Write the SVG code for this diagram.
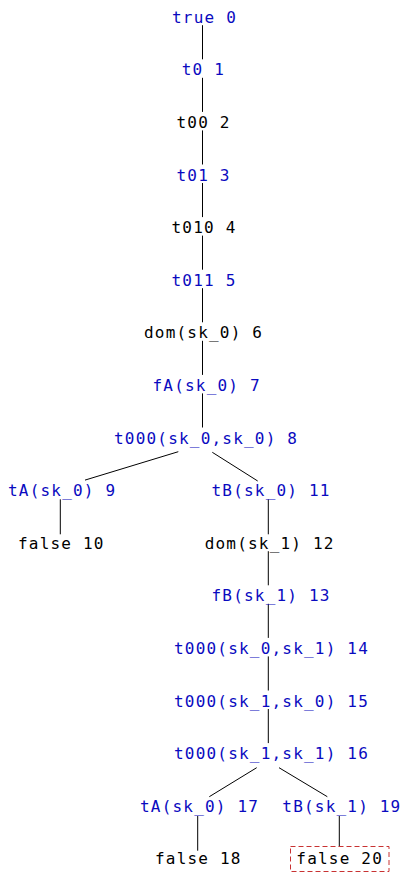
<svg xmlns="http://www.w3.org/2000/svg" width="412" height="892" viewBox="0 0 412 892">
<style>
text{font-family:"DejaVu Sans Mono","Liberation Mono",monospace;font-size:16px;letter-spacing:1.2px}
.b{fill:#0a0ac0}
.k{fill:#000}
#edges line{stroke:#000;stroke-width:1}
.hl{fill:none;stroke:#c83232;stroke-width:1;stroke-dasharray:5,3}
</style>
<rect width="412" height="892" fill="#fff"/>
<g id="edges">
<line x1="202.5" y1="25.2" x2="202.5" y2="59.3"/>
<line x1="202.5" y1="77.8" x2="202.5" y2="111.9"/>
<line x1="202.5" y1="130.4" x2="202.5" y2="164.5"/>
<line x1="202.5" y1="183" x2="202.5" y2="217.1"/>
<line x1="202.5" y1="235.6" x2="202.5" y2="269.7"/>
<line x1="202.5" y1="288.2" x2="202.5" y2="322.3"/>
<line x1="202.5" y1="340.8" x2="202.5" y2="374.9"/>
<line x1="202.5" y1="393.4" x2="202.5" y2="427.5"/>
<line x1="178.3" y1="451.7" x2="85" y2="480.1"/>
<line x1="212.3" y1="452.3" x2="257.7" y2="481"/>
<line x1="60.3" y1="499.3" x2="60.3" y2="534.3"/>
<line x1="268.3" y1="499.3" x2="268.3" y2="534.3"/>
<line x1="268.3" y1="551.2" x2="268.3" y2="585.3"/>
<line x1="268.3" y1="603.8" x2="268.3" y2="637.9"/>
<line x1="268.3" y1="656.4" x2="268.3" y2="690.5"/>
<line x1="268.3" y1="709" x2="268.3" y2="743.1"/>
<line x1="256.7" y1="767.7" x2="209.3" y2="796.7"/>
<line x1="279" y1="767.7" x2="327.3" y2="796.7"/>
<line x1="197.7" y1="816" x2="197.7" y2="850.7"/>
<line x1="339.3" y1="816" x2="339.3" y2="846.5"/>
</g>
<g id="n0"><text class="b" x="172" y="22.7">true 0</text></g>
<g id="n1"><text class="b" x="181.7" y="75.3">t0 1</text></g>
<g id="n2"><text class="k" x="176.5" y="127.9">t00 2</text></g>
<g id="n3"><text class="b" x="176.5" y="180.5">t01 3</text></g>
<g id="n4"><text class="k" x="171.5" y="233.1">t010 4</text></g>
<g id="n5"><text class="b" x="171.5" y="285.7">t011 5</text></g>
<g id="n6"><text class="k" x="144" y="338.3">dom(sk_0) 6</text></g>
<g id="n7"><text class="b" x="152.5" y="390.9">fA(sk_0) 7</text></g>
<g id="n8"><text class="b" x="114" y="443.5">t000(sk_0,sk_0) 8</text></g>
<g id="n9"><text class="b" x="8" y="496.1">tA(sk_0) 9</text></g>
<g id="n10"><text class="k" x="18" y="548.7">false 10</text></g>
<g id="n11"><text class="b" x="211.5" y="496.1">tB(sk_0) 11</text></g>
<g id="n12"><text class="k" x="204.7" y="548.7">dom(sk_1) 12</text></g>
<g id="n13"><text class="b" x="211.5" y="601.3">fB(sk_1) 13</text></g>
<g id="n14"><text class="b" x="174" y="653.9">t000(sk_0,sk_1) 14</text></g>
<g id="n15"><text class="b" x="174" y="706.5">t000(sk_1,sk_0) 15</text></g>
<g id="n16"><text class="b" x="174" y="759.1">t000(sk_1,sk_1) 16</text></g>
<g id="n17"><text class="b" x="140" y="811.7">tA(sk_0) 17</text></g>
<g id="n18"><text class="k" x="155" y="864.3">false 18</text></g>
<g id="n19"><text class="b" x="282.3" y="811.7">tB(sk_1) 19</text></g>
<g id="n20"><rect class="hl" x="290.5" y="846.5" width="98.5" height="25"/><text class="k" x="296.3" y="864.3">false 20</text></g>
</svg>
